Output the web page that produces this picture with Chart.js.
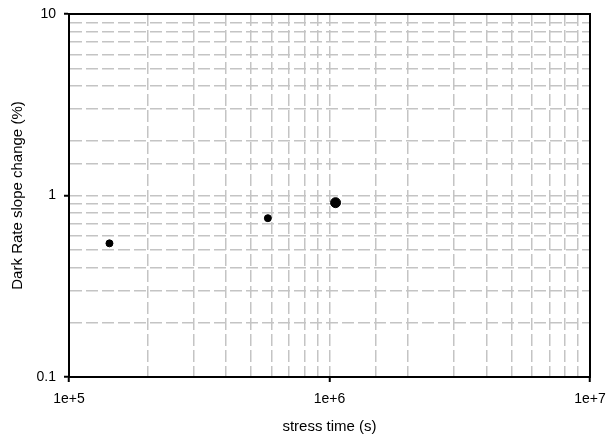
<!DOCTYPE html>
<html>
<head>
<meta charset="utf-8">
<script src="https://cdn.jsdelivr.net/npm/chart.js@4/dist/chart.umd.min.js"></script>
<style>
  body { margin: 0; background: #fff; }
  canvas { display: block; }
</style>
</head>
<body>
<canvas id="darkRateChart" width="608" height="438"></canvas>
<script>
// data
const stressTime = [1.43e5, 5.8e5, 1.055e6];
const slopeChange = [0.545, 0.75, 0.913];
const pointSizes = [3.5, 3.5, 5];
const xMajorTicks = [1e5, 1e6, 1e7];
const yMajorTicks = [0.1, 1, 10];

const TICK_FONT = { family: "'Liberation Sans', Arial, sans-serif", size: 14 };
const TITLE_FONT = { family: "'Liberation Sans', Arial, sans-serif", size: 15 };
const GRID_GRAY = "#c4c4c4";

function isMajor(v, majors) {
    return majors.some(m => Math.abs(v / m - 1) < 1e-6);
}

const frame = {
    id: "frame",
    afterDraw(chart) {
        const a = chart.chartArea;
        const ctx = chart.ctx;
        ctx.save();
        ctx.strokeStyle = "#000";
        ctx.lineWidth = 2;
        ctx.strokeRect(a.left, a.top, a.right - a.left, a.bottom - a.top);
        ctx.restore();
    }
};

new Chart(document.getElementById("darkRateChart"), {
    type: "scatter",
    data: {
        datasets: [{
            data: stressTime.map((x, i) => ({ x: x, y: slopeChange[i] })),
            backgroundColor: "#000",
            borderColor: "#000",
            pointRadius: pointSizes,
            pointHoverRadius: pointSizes
        }]
    },
    options: {
        responsive: false,
        animation: false,
        layout: { padding: { top: 14, right: 18, left: 0, bottom: 0 } },
        plugins: { legend: { display: false }, tooltip: { enabled: false } },
        scales: {
            x: {
                type: "logarithmic",
                min: 1e5,
                max: 1e7,
                afterFit: s => { s.height = 61; s.paddingLeft = 0; s.paddingRight = 0; },
                border: { color: "#000", width: 2, dash: [12, 4] },
                grid: {
                    lineWidth: 1.5,
                    color: ctx => (ctx.tick && (ctx.tick.value === 1e5 || ctx.tick.value === 1e7)) ? "rgba(0,0,0,0)" : GRID_GRAY,
                    tickColor: ctx => (ctx.tick && isMajor(ctx.tick.value, xMajorTicks)) ? "#000" : "rgba(0,0,0,0)",
                    tickLength: 5,
                    tickWidth: 2
                },
                ticks: {
                    autoSkip: false,
                    maxRotation: 0,
                    padding: 9,
                    color: "#000",
                    font: TICK_FONT,
                    callback: v => isMajor(v, xMajorTicks) ? "1e+" + Math.round(Math.log10(v)) : ""
                },
                title: { display: true, text: "stress time (s)", color: "#000", font: TITLE_FONT, padding: { top: 0, bottom: 2 } }
            },
            y: {
                type: "logarithmic",
                min: 0.1,
                max: 10,
                afterFit: s => { s.width = 69; s.paddingTop = 0; s.paddingBottom = 0; },
                border: { color: "#000", width: 2, dash: [12, 4] },
                grid: {
                    lineWidth: 1.5,
                    color: ctx => (ctx.tick && (isMajor(ctx.tick.value, [0.1]) || isMajor(ctx.tick.value, [10]))) ? "rgba(0,0,0,0)" : GRID_GRAY,
                    tickColor: ctx => (ctx.tick && isMajor(ctx.tick.value, yMajorTicks)) ? "#000" : "rgba(0,0,0,0)",
                    tickLength: 5,
                    tickWidth: 2
                },
                ticks: {
                    autoSkip: false,
                    padding: 8,
                    color: "#000",
                    font: TICK_FONT,
                    callback: v => isMajor(v, yMajorTicks) ? String(Number(v.toPrecision(2))) : ""
                },
                title: { display: true, text: "Dark Rate slope change (%)", color: "#000", font: TITLE_FONT, padding: { top: 9, bottom: 0 } }
            }
        }
    },
    plugins: [frame]
});
</script>
</body>
</html>
